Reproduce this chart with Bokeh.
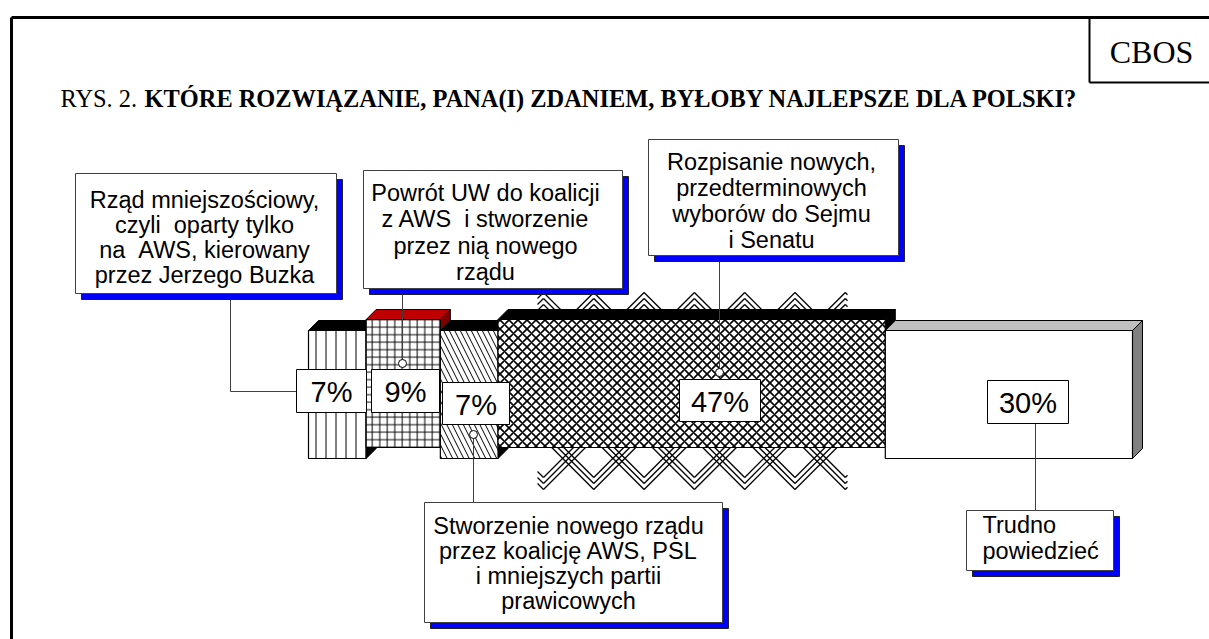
from bokeh.plotting import figure
from bokeh.models import Range1d
from bokeh.embed import file_html
from bokeh.resources import INLINE
from bokeh.core.properties import value

# ---------------- data ----------------
categories = [
    "Rząd mniejszościowy AWS",
    "Powrót UW do koalicji",
    "Koalicja AWS, PSL i mniejszych partii",
    "Nowe wybory",
    "Trudno powiedzieć",
]
values = [7, 9, 7, 47, 30]
pct_labels = ["7%", "9%", "7%", "47%", "30%"]
NB = "\u00a0"
callout_lines = [
    ["Rząd mniejszościowy,", "czyli " + NB + "oparty tylko", "na " + NB + "AWS, kierowany", "przez Jerzego Buzka"],
    ["Powrót UW do koalicji", "z AWS " + NB + "i stworzenie", "przez nią nowego", "rządu"],
    ["Stworzenie nowego rządu", "przez koalicję AWS, PSL", "i mniejszych partii", "prawicowych"],
    ["Rozpisanie nowych,", "przedterminowych", "wyborów do Sejmu", "i Senatu"],
    ["Trudno", "powiedzieć"],
]
title_plain = "RYS. 2."
title_bold = "KTÓRE ROZWIĄZANIE, PANA(I) ZDANIEM, BYŁOBY NAJLEPSZE DLA POLSKI?"
source_label = "CBOS"

# ---------------- layout / style ----------------
W, H = 1209, 639
X0, PXPCT = 308.0, 8.24      # page x of 0 %, pixels per percent


def px(xp):
    """page pixel x -> percent units of the x range"""
    return (xp - X0) / PXPCT


def tb(baseline, fs):
    """wanted baseline -> y anchor (renderer puts the baseline ~0.34 em lower)"""
    return baseline - 0.34 * fs


p = figure(width=W, height=H, output_backend="svg", toolbar_location=None,
           x_range=Range1d(px(0), px(W)),
           y_range=Range1d(H, 0), min_border=0)
p.axis.visible = False
p.grid.visible = False
p.outline_line_color = None
p.background_fill_color = "white"
p.border_fill_color = "white"

SANS = value("Liberation Sans")
SERIF = value("Liberation Serif")

# frame
p.line([px(11), px(1215)], [17, 17], line_color="black", line_width=3)
p.line([px(11), px(11)], [17, 650], line_color="black", line_width=3)
p.line([px(1089), px(1089)], [17, 82], line_color="black", line_width=2)
p.line([px(1089), px(1215)], [82, 82], line_color="black", line_width=2)
p.text(x=[px(1151)], y=[tb(62, 32)], text=[source_label], text_font=SERIF,
       text_font_size="32px", text_align="center", text_baseline="alphabetic",
       text_color="black")

# title
TFS = 24.4
p.text(x=[px(60)], y=[tb(106, TFS)], text=[title_plain], text_font=SERIF,
       text_font_size=f"{TFS}px", text_align="left", text_baseline="alphabetic",
       text_color="black")
p.text(x=[px(60 + 3.445 * TFS)], y=[tb(106, TFS)], text=[title_bold],
       text_font=SERIF, text_font_size=f"{TFS}px", text_font_style="bold",
       text_align="left", text_baseline="alphabetic", text_color="black")

# ---------------- hatch overflow (chevrons around the 47 % block) ----------------
XL, XR = 537, 847
cx = [543 + 50.3 * k for k in range(7)]


def clip_seg(x1, y1, x2, y2):
    # clip a straight segment to XL..XR horizontally
    def at(xv):
        return y1 + (y2 - y1) * (xv - x1) / (x2 - x1)
    lo, hi = (x1, y1), (x2, y2)
    if x1 > x2:
        lo, hi = hi, lo
    if hi[0] < XL or lo[0] > XR:
        return None
    a = (XL, at(XL)) if lo[0] < XL else lo
    b = (XR, at(XR)) if hi[0] > XR else hi
    return a, b


chev_x, chev_y = [], []
for c in cx:
    for j in range(3):
        # above: nested peaks
        vy = 292 + 6 * j
        hw = 320 - vy
        for sgn in (-1, 1):
            r = clip_seg(c, vy, c + sgn * hw, vy + hw)
            if r:
                chev_x.append([px(r[0][0]), px(r[1][0])])
                chev_y.append([r[0][1], r[1][1]])
        # below: nested valleys
        vy = 489 - 6 * j
        hw = vy - 444
        for sgn in (-1, 1):
            r = clip_seg(c, vy, c + sgn * hw, vy - hw)
            if r:
                chev_x.append([px(r[0][0]), px(r[1][0])])
                chev_y.append([r[0][1], r[1][1]])
p.multi_line(chev_x, chev_y, line_color="black", line_width=1.3)

# ---------------- 3D stacked bar ----------------
front_top = [330, 319, 330, 319, 330]
bar_h = 128
DX, DY = 10 / PXPCT, -10
top_cols = ["black", "#c00000", "black", "black", "#c0c0c0"]
side_cols = ["black", "#800000", "black", "black", "#808080"]
hatches = ["vertical_line", "cross", "left_diagonal_line", "diagonal_cross", " "]
hscale = [10, 7.5, 11, 9, 10]
hweight = [1, 1, 1, 1.6, 1]

starts = []
acc = 0
for v in values:
    starts.append(acc)
    acc += v

for i, v in enumerate(values):
    s, e = starts[i], starts[i] + v
    t = front_top[i]
    b = t + bar_h
    # right face
    p.patch([e, e + DX, e + DX, e], [t, t + DY, b + DY, b],
            fill_color=side_cols[i], line_color="black", line_width=1)
    # top face
    p.patch([s, e, e + DX, s + DX], [t, t, t + DY, t + DY],
            fill_color=top_cols[i], line_color="black", line_width=1)
    # front face
    p.quad(left=[s], right=[e], top=[t], bottom=[b], fill_color="white",
           line_color="black", line_width=1.2,
           hatch_pattern=hatches[i], hatch_color="black",
           hatch_scale=hscale[i], hatch_weight=hweight[i])

# ---------------- leader lines ----------------
LC = "#404040"
leaders = [
    ([296, 230, 230], [391, 391, 293]),
    ([402, 402], [363, 288]),
    ([473, 473], [434, 502]),
    ([719, 719], [372, 255]),
    ([1035, 1035], [423, 510]),
]
for xs, ys in leaders:
    p.line([px(x) for x in xs], ys, line_color=LC, line_width=1)
p.scatter([px(402), px(473), px(719)], [363, 434, 372], size=8,
          fill_color="white", line_color="black", line_width=1)

# ---------------- percentage boxes ----------------
pct_boxes = [(296, 369, 366, 412), (371, 369, 439, 412), (442, 382, 509, 424),
             (679, 379, 760, 421), (987, 380, 1068, 423)]
for (l, t, r, b), lab in zip(pct_boxes, pct_labels):
    p.quad(left=[px(l)], right=[px(r)], top=[t], bottom=[b], fill_color="white",
           line_color="black", line_width=1)
    p.text(x=[px((l + r) / 2)], y=[tb((t + b) / 2 + 11, 29)], text=[lab],
           text_font=SANS, text_font_size="29px", text_align="center",
           text_baseline="alphabetic", text_color="black")

# ---------------- callout boxes ----------------
callouts = [
    dict(box=(75, 173, 336, 293), tx=204, ty=207, dy=25, align="center"),
    dict(box=(363, 170, 622, 288), tx=485, ty=200, dy=26.5, align="center"),
    dict(box=(424, 502, 722, 622), tx=568, ty=533, dy=25, align="center"),
    dict(box=(648, 139, 898, 255), tx=771, ty=169, dy=26, align="center"),
    dict(box=(966, 510, 1113, 570), tx=982, ty=532, dy=26, align="left"),
]
SH = (6, 6)
FS = 23.5
for c, lines in zip(callouts, callout_lines):
    l, t, r, b = c["box"]
    p.quad(left=[px(l + SH[0])], right=[px(r + SH[0])], top=[t + SH[1]],
           bottom=[b + SH[1]], fill_color="#0000ff", line_color="#202020",
           line_width=1)
    p.quad(left=[px(l)], right=[px(r)], top=[t], bottom=[b], fill_color="white",
           line_color="#404040", line_width=1)
    ys = [tb(c["ty"] + k * c["dy"], FS) for k in range(len(lines))]
    p.text(x=[px(c["tx"])] * len(lines), y=ys, text=lines, text_font=SANS,
           text_font_size=f"{FS}px", text_align=c["align"],
           text_baseline="alphabetic", text_color="black")

open("out.html", "w").write(file_html(p, INLINE))
